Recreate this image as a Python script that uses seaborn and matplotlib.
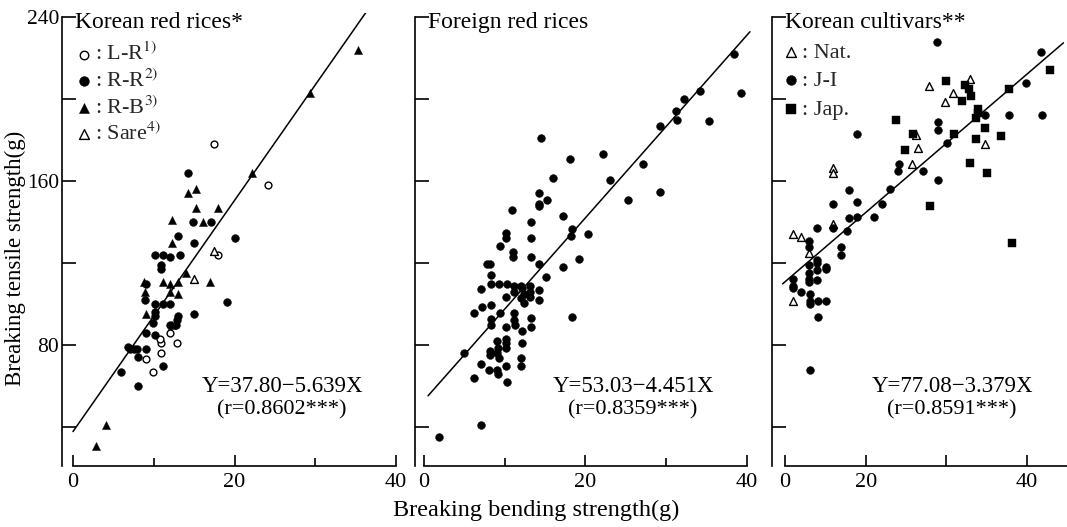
import matplotlib
matplotlib.use('Agg')
import matplotlib.pyplot as plt
import seaborn as sns
import pandas as pd

# ---- values (bending g, tensile g) ----
KR_LR = [(17.5, 178), (24.1, 158), (18.0, 124), (12.0, 86), (10.9, 81), (10.8, 83),
         (12.9, 81), (9.1, 73), (10.9, 76), (9.9, 67)]
KR_RR = [(14.2, 164), (14.9, 140), (17.1, 140), (13.0, 133), (15.0, 130), (20.1, 132),
         (10.1, 124), (11.1, 124), (12.0, 123), (13.2, 124), (10.9, 119), (10.9, 117),
         (9.1, 110), (8.9, 102), (10.1, 100), (11.1, 100), (12.0, 100), (19.1, 101),
         (10.1, 96), (15.0, 95), (9.9, 91), (12.9, 92), (10.1, 94), (12.0, 90),
         (12.7, 90), (13.0, 94), (9.1, 86), (10.1, 85), (6.8, 79), (7.1, 78),
         (7.5, 78), (7.9, 78), (8.0, 74), (9.1, 78), (11.1, 70), (6.0, 67), (8.1, 60)]
KR_RB = [(35.3, 224), (29.4, 203), (22.2, 164), (14.2, 154), (15.2, 156), (15.2, 147),
         (18.0, 147), (12.2, 141), (16.1, 140), (12.2, 130), (14.0, 115), (17.0, 111),
         (8.8, 111), (11.1, 111), (12.0, 110), (13.0, 111), (8.9, 106), (12.0, 106),
         (13.0, 105), (9.1, 95), (12.3, 90), (4.1, 41), (2.9, 31)]
KR_SARE = [(15.0, 112), (17.4, 126)]

FR_ALL = [(38.4, 222), (39.3, 203), (34.2, 204), (32.2, 200), (31.2, 194), (31.4, 190),
          (35.3, 189.5), (29.2, 187), (14.5, 181), (18.1, 171), (22.2, 173), (27.2, 168.5),
          (23.0, 160.6), (16.0, 161.5), (14.3, 154), (15.2, 151), (14.2, 149), (14.2, 148),
          (25.3, 151), (29.2, 154.6), (10.9, 146), (17.2, 143), (13.3, 140), (18.3, 136.5),
          (18.2, 133), (20.3, 134), (10.2, 134.7), (10.2, 132), (9.4, 128.5), (13.3, 132),
          (11.0, 125.6), (11.0, 122.8), (13.3, 123), (19.2, 122), (14.2, 119.5), (17.2, 118),
          (7.8, 119.5), (8.2, 119.5), (15.1, 113), (8.25, 114), (8.25, 110), (9.3, 110),
          (10.3, 110), (7.1, 107.5), (11.2, 109), (11.2, 106), (12.0, 109), (12.2, 108),
          (13.1, 109), (13.1, 106), (13.1, 103.5), (14.2, 107), (12.4, 105), (12.0, 103),
          (12.4, 100.5), (10.2, 103.5), (14.2, 102), (7.2, 98.5), (8.25, 99.5), (6.25, 95.5),
          (9.4, 95.5), (11.1, 95.4), (11.2, 92), (11.3, 90), (8.25, 92.5), (8.25, 89.7),
          (10.2, 89), (18.3, 93.7), (12.2, 86.7), (13.3, 93), (13.3, 89), (10.1, 83),
          (10.1, 81), (10.1, 78.5), (9.1, 82), (9.2, 78.5), (9.1, 76), (9.3, 73.5),
          (8.2, 77), (8.2, 75), (12.2, 81), (4.9, 76), (12.0, 73.5), (12.0, 70),
          (7.1, 71), (8.0, 68), (10.1, 70), (9.1, 68), (9.2, 66), (6.25, 64),
          (10.25, 62), (7.0, 41), (1.9, 35.2)]

KC_NAT = [(32.9, 210), (27.8, 206.4), (30.8, 203), (29.8, 198.5), (26.2, 182.5), (34.8, 178),
          (26.5, 176), (25.7, 168.5), (15.9, 166.5), (15.9, 164), (11.0, 134), (12.0, 132.5),
          (13.0, 124.8), (11.0, 101.7), (15.9, 139)]
KC_JI = [(28.8, 228), (41.7, 223), (39.8, 208), (34.8, 192.4), (37.7, 192), (41.8, 192),
         (28.9, 189), (28.9, 185), (18.9, 183), (30.1, 178.7), (24.1, 168.5), (24.0, 165),
         (27.1, 165), (28.9, 160.4), (23.0, 156), (17.9, 155.6), (22.0, 149), (15.9, 149),
         (18.9, 150), (21.0, 142.6), (18.9, 142.6), (17.9, 142), (15.9, 137), (17.7, 135.5),
         (14.0, 137), (13.0, 131), (13.0, 128), (17.0, 128), (17.0, 124), (14.0, 121.4),
         (14.0, 120), (14.0, 116.5), (15.1, 118), (15.1, 117), (13.0, 119), (13.0, 115),
         (13.0, 112), (13.0, 110.7), (14.0, 111.9), (11.0, 112), (11.0, 109), (11.0, 108),
         (12.0, 106), (13.1, 105), (13.1, 101.7), (13.1, 100), (14.1, 101.7), (15.1, 101.7),
         (14.1, 93.7), (13.1, 67.8)]
KC_JAP = [(42.8, 214), (29.9, 209), (37.7, 205), (32.3, 207), (32.8, 205), (33.0, 201.5),
          (31.9, 199), (33.9, 195), (33.9, 193), (33.7, 191), (23.7, 190), (34.8, 186),
          (25.9, 183), (30.9, 183), (36.8, 182), (33.7, 180.5), (24.9, 175), (32.9, 169),
          (35.0, 164), (28.0, 148), (38.1, 130)]

PANEL_TITLES = ["Korean red rices*", "Foreign red rices", "Korean cultivars**"]
KR_LABELS = [": L-R$^{1)}$", ": R-R$^{2)}$", ": R-B$^{3)}$", ": Sare$^{4)}$"]
KC_LABELS = [": Nat.", ": J-I", ": Jap."]

INTERCEPTS = [37.80, 53.03, 77.08]
SLOPES = [5.639, 4.451, 3.379]
LINE_SPAN = [(0.0, 36.3), (0.5, 40.4), (9.7, 44.5)]
EQ_TEXT = ["Y=37.80\u22125.639X", "Y=53.03\u22124.451X", "Y=77.08\u22123.379X"]
R_TEXT = ["(r=0.8602***)", "(r=0.8359***)", "(r=0.8591***)"]

Y_TICKS = [40, 80, 120, 160, 200, 240]
Y_TICK_LABELS = ["", "80", "", "160", "", "240"]
X_TICKS = [[0, 10, 20, 30, 40], [0, 10, 20, 30, 40], [10, 20, 30, 40]]
X_TICK_LABELS = [["0", "", "20", "", "40"], ["0", "", "20", "", "40"], ["0", "20", "", "40"]]

sns.set_theme(style='white')
plt.rcParams['font.family'] = ['Liberation Serif', 'DejaVu Serif']
plt.rcParams['mathtext.fontset'] = 'stix'

W, H = 1067, 527
fig = plt.figure(figsize=(W / 100, H / 100), dpi=100)
fig.patch.set_facecolor('white')


def px_box(left, right, top=13, bottom=466):
    return [left / W, 1 - bottom / H, (right - left) / W, (bottom - top) / H]


axes = [fig.add_axes(px_box(62, 405)),
        fig.add_axes(px_box(415, 758)),
        fig.add_axes(px_box(772, 1067))]
XLIMS = [(-1.36, 41.1), (-1.12, 41.4), (8.39, 44.94)]

# marker styles: (points, marker, filled, size)
panel_groups = [
    [(KR_LR, 'o', False, 24), (KR_RR, 'o', True, 32), (KR_RB, '^', True, 34), (KR_SARE, '^', False, 32)],
    [(FR_ALL, 'o', True, 32)],
    [(KC_NAT, '^', False, 32), (KC_JI, 'o', True, 32), (KC_JAP, 's', True, 32)],
]

for i, ax in enumerate(axes):
    for pts, marker, filled, size in panel_groups[i]:
        df = pd.DataFrame(pts, columns=['bending', 'tensile'])
        sns.scatterplot(data=df, x='bending', y='tensile', ax=ax, marker=marker, s=size,
                        color='black' if filled else 'white', edgecolor='black',
                        linewidth=0.3 if filled else 1.0, zorder=3)

    x0, x1 = LINE_SPAN[i]
    ax.plot([x0, x1], [INTERCEPTS[i] + SLOPES[i] * x0, INTERCEPTS[i] + SLOPES[i] * x1],
            color='black', lw=1.1, zorder=2)

    ax.set_xlim(*XLIMS[i])
    ax.set_ylim(21, 242)
    ax.set_xlabel('')
    ax.set_ylabel('')
    ax.set_facecolor('none')
    for s in ['top', 'right']:
        ax.spines[s].set_visible(False)
    for s in ['left', 'bottom']:
        ax.spines[s].set_color('black')
        ax.spines[s].set_linewidth(1.2)
    ax.spines['left'].set_bounds(21, 240)
    ax.spines['bottom'].set_bounds(X_TICKS[i][0], 40 if i < 2 else XLIMS[i][1])

    ax.set_yticks(Y_TICKS)
    ax.set_yticklabels(Y_TICK_LABELS if i == 0 else [''] * len(Y_TICKS))
    ax.set_xticks(X_TICKS[i])
    ax.set_xticklabels(X_TICK_LABELS[i])
    ax.tick_params(axis='y', direction='in', length=10, width=1.2, color='black',
                   pad=2, labelsize=15.5, labelcolor='black', left=True)
    ax.tick_params(axis='x', direction='in', length=8, width=1.2, color='black',
                   pad=5, labelsize=16, labelcolor='black', bottom=True)
    if i < 2:
        for t, lab in zip(ax.xaxis.get_major_ticks(), X_TICK_LABELS[i]):
            if lab == '':
                t.tick1line.set_markersize(5.5)

    ax.text(0.037 if i < 2 else 0.044, 237.5, PANEL_TITLES[i], transform=ax.get_yaxis_transform(),
            ha='left', va='center', fontsize=17, color='black')

    cx = [282, 633, 952][i]
    fig.text(cx / W, 1 - 386 / H, EQ_TEXT[i], ha='center', va='center', fontsize=16.5, color='black')
    fig.text(cx / W, 1 - 410 / H, R_TEXT[i], ha='center', va='center', fontsize=16, color='black')

    if ax.get_legend() is not None:
        ax.get_legend().remove()

# legends of the two Korean panels
leg_spec = [(0, KR_LABELS, 76, 43, 0.18), (2, KC_LABELS, 783, 42, 0.36)]
for i, labels, lx, ly, sp in leg_spec:
    ax = axes[i]
    hs = ax.collections[:len(labels)]
    ax.legend(hs, labels, loc='upper left', bbox_to_anchor=(lx / W, 1 - ly / H),
              bbox_transform=fig.transFigure, frameon=False, fontsize=16,
              handlelength=0.7, handletextpad=0.15, labelspacing=sp, borderpad=0,
              borderaxespad=0, markerscale=1.25)

fig.text(15 / W, 1 - 258 / H, 'Breaking tensile strength(g)', rotation=90,
         ha='center', va='center', fontsize=16.5, color='black')
fig.text(536 / W, 1 - 510 / H, 'Breaking bending strength(g)',
         ha='center', va='center', fontsize=17.5, color='black')

fig.savefig('out.png', dpi=100, facecolor='white')
